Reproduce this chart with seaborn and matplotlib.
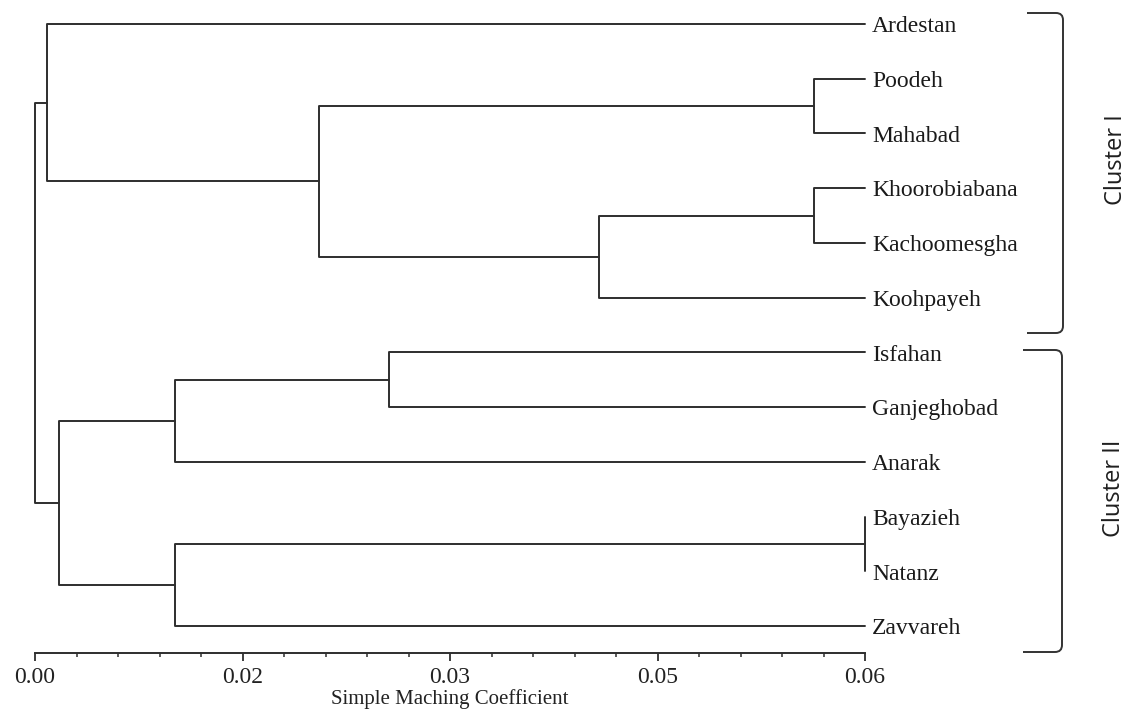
import numpy as np
import pandas as pd
import matplotlib
matplotlib.use("Agg")
import matplotlib.pyplot as plt
import seaborn as sns
from matplotlib.path import Path
from matplotlib.patches import PathPatch

# ---------------- data ----------------
leaves = ["Ardestan", "Poodeh", "Mahabad", "Khoorobiabana", "Kachoomesgha",
          "Koohpayeh", "Isfahan", "Ganjeghobad", "Anarak", "Bayazieh",
          "Natanz", "Zavvareh"]
leaf_coef = 0.06
# merges: ids 0-11 are leaves, merge k creates cluster id 12+k
merge_left = [1, 3, 9, 13, 6, 12, 16, 14, 0, 18, 20]
merge_right = [2, 4, 10, 5, 7, 15, 8, 11, 17, 19, 21]
merge_coef = [0.0563, 0.0563, 0.0600, 0.0408, 0.0256, 0.0205,
              0.0101, 0.0101, 0.0009, 0.0017, 0.0000]

tick_values = [0.0, 0.015, 0.03, 0.045, 0.06]
tick_labels = ["0.00", "0.02", "0.03", "0.05", "0.06"]
xlabel = "Simple Maching Coefficient"
cluster_names = ["Cluster I", "Cluster II"]

# ---------------- build dendrogram segments ----------------
pos_x = {i: leaf_coef for i in range(len(leaves))}
pos_y = {i: float(i) for i in range(len(leaves))}
rows = []
for k, (a, b, h) in enumerate(zip(merge_left, merge_right, merge_coef)):
    nid = len(leaves) + k
    pts = [(pos_x[a], pos_y[a]), (h, pos_y[a]), (h, pos_y[b]), (pos_x[b], pos_y[b])]
    for order, (x, y) in enumerate(pts):
        rows.append({"seg": k, "order": order, "x": x, "y": y})
    pos_x[nid] = h
    pos_y[nid] = (pos_y[a] + pos_y[b]) / 2
df = pd.DataFrame(rows)

# ---------------- figure ----------------
sns.set_theme(style="white")
plt.rcParams["font.family"] = ["Liberation Serif", "DejaVu Sans"]

W, H = 1131, 711
fig = plt.figure(figsize=(W / 100, H / 100), dpi=100)
fig.patch.set_facecolor("white")

ax_l, ax_r, ax_t, ax_b = 35, 865, 10, 653
ax = fig.add_axes([ax_l / W, 1 - ax_b / H, (ax_r - ax_l) / W, (ax_b - ax_t) / H])
ax.set_facecolor("white")

line_col = "#2e2e2e"
sns.lineplot(data=df, x="x", y="y", units="seg", estimator=None, sort=False,
             color=line_col, linewidth=1.4, ax=ax, legend=False)
for ln in ax.lines:
    ln.set_clip_on(False)

step = 54.73
ax.set_xlim(0, 0.06)
ax.set_ylim((ax_b - 24) / step, (ax_t - 24) / step)

for i, name in enumerate(leaves):
    ax.annotate(name, xy=(leaf_coef, i), xytext=(5, -2), textcoords="offset points",
                ha="left", va="center", fontsize=17, color="#1a1a1a",
                family=["Liberation Serif", "DejaVu Sans"], annotation_clip=False)

# axis styling
for s in ["left", "top", "right"]:
    ax.spines[s].set_visible(False)
ax.spines["bottom"].set_color(line_col)
ax.spines["bottom"].set_linewidth(1.4)
ax.set_yticks([])
ax.set_xticks(tick_values)
ax.set_xticklabels(tick_labels)
ax.set_xticks(np.arange(0, 0.0601, 0.003), minor=True)
ax.tick_params(axis="x", which="major", direction="out", length=6, width=1.3,
               color=line_col, labelsize=17, labelcolor="#222222", pad=4, bottom=True)
ax.tick_params(axis="x", which="minor", direction="out", length=3, width=1.1,
               color=line_col, bottom=True)
ax.set_xlabel(xlabel, fontsize=15, color="#222222", labelpad=1)
ax.set_ylabel("")
ax.grid(False)

# ---------------- overlay: cluster brackets ----------------
ov = fig.add_axes([0, 0, 1, 1], facecolor="none")
ov.set_xlim(0, W)
ov.set_ylim(H, 0)
ov.axis("off")

def bracket(y0, y1, x0, x1, r=7):
    verts = [(x0, y0), (x1 - r, y0), (x1, y0), (x1, y0 + r),
             (x1, y1 - r), (x1, y1), (x1 - r, y1), (x0, y1)]
    codes = [Path.MOVETO, Path.LINETO, Path.CURVE3, Path.CURVE3,
             Path.LINETO, Path.CURVE3, Path.CURVE3, Path.LINETO]
    ov.add_patch(PathPatch(Path(verts, codes), facecolor="none",
                           edgecolor="#333333", linewidth=1.4))

bracket(13, 333, 1027, 1063)
bracket(350, 652, 1023, 1062)

ov.text(1116, 160, cluster_names[0], rotation=90, ha="center", va="center",
        fontsize=17, color="#1f1f1f", family=["Open Sans", "DejaVu Sans"])
ov.text(1114, 488, cluster_names[1], rotation=90, ha="center", va="center",
        fontsize=17, color="#1f1f1f", family=["Open Sans", "DejaVu Sans"])

fig.savefig("out.png", dpi=100, facecolor="white")
